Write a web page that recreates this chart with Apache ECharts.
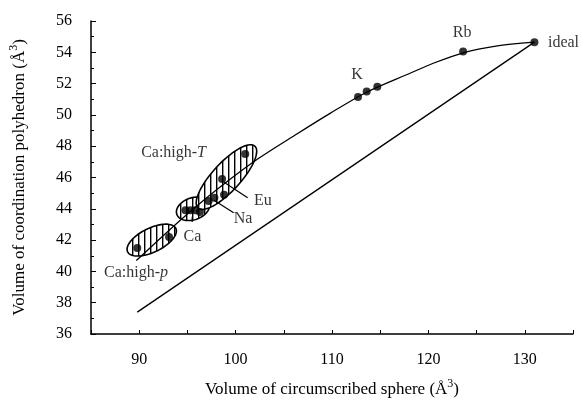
<!DOCTYPE html>
<html>
<head>
<meta charset="utf-8">
<script src="https://cdn.jsdelivr.net/npm/echarts@6/dist/echarts.min.js"></script>
<style>
    html, body { margin: 0; padding: 0; background: #fff; }
    #chart { width: 583px; height: 408px; }
</style>
</head>
<body>
<div id="chart"></div>
<script>
    // measured points (circumscribed sphere volume, polyhedron volume)
    var pointX = [89.8, 93.1, 94.8, 95.3, 95.8, 96.3, 97.2, 97.8, 98.8, 98.6, 101.0, 112.7, 113.6, 114.7, 123.6, 131.0];
    var pointY = [41.5, 42.2, 43.9, 43.9, 43.9, 43.8, 44.5, 44.7, 44.9, 45.9, 47.5, 51.15, 51.5, 51.8, 54.05, 54.65];

    // curve drawn through the points
    var curveX = [89.7, 92.0, 94.5, 98.0, 102.1, 106.4, 109.8, 113.6, 118.1, 120.5, 123.6, 127.0, 131.0];
    var curveY = [40.7, 42.0, 43.4, 45.2, 47.1, 48.8, 50.1, 51.45, 52.66, 53.3, 53.97, 54.4, 54.65];

    // straight lower line
    var lineX = [89.8, 131.0];
    var lineY = [37.4, 54.65];

    // hatched groups: ends of the long axis [x1, y1, x2, y2]
    var groupEnds = [
        [88.8, 41.25, 93.8, 42.75],   // Ca:high-p
        [93.9, 43.65, 97.25, 44.35],  // Ca
        [96.1, 44.05, 102.0, 48.0]    // Ca:high-T
    ];

    // annotations
    var labelText = ['{r|Ca:high-}{i|T}', 'Eu', 'Na', 'Ca', '{r|Ca:high-}{i|p}', 'K', 'Rb', 'ideal'];
    var labelX = [90.2, 101.9, 99.8, 94.6, 86.35, 112.6, 123.5, 132.4];
    var labelY = [47.6, 44.5, 43.35, 42.2, 39.9, 52.55, 55.25, 54.6];
    var leaderEnds = [
        [98.8, 45.7, 101.25, 44.7],   // Eu
        [97.75, 44.55, 99.8, 43.75],  // Na
        [95.5, 43.5, 95.5, 43.15]     // Ca
    ];

    var groupHalfWidth = [12, 11, 14];   // px
    var labelAlign = ['left', 'left', 'left', 'left', 'left', 'center', 'center', 'left'];

    var fontFamily = '"Liberation Serif", "DejaVu Serif", serif';

    // vertical hatch pattern
    var hatchCanvas = document.createElement('canvas');
    hatchCanvas.width = 6;
    hatchCanvas.height = 6;
    var hctx = hatchCanvas.getContext('2d');
    hctx.fillStyle = '#fff';
    hctx.fillRect(0, 0, 6, 6);
    hctx.fillStyle = '#000';
    hctx.fillRect(0, 0, 1.4, 6);
    var hatch = { type: 'pattern', image: hatchCanvas, repeat: 'repeat' };

    function pairs(xs, ys) {
        return xs.map(function (x, i) { return [x, ys[i]]; });
    }

    var myChart = echarts.init(document.getElementById('chart'), null, { renderer: 'canvas' });

    var axisText = { color: '#000', fontFamily: fontFamily, fontSize: 16 };
    var nameStyle = {
        color: '#000', fontFamily: fontFamily, fontSize: 17,
        rich: {
            s: { fontFamily: fontFamily, fontSize: 12, color: '#000', verticalAlign: 'top', lineHeight: 23 }
        }
    };

    myChart.setOption({
        animation: false,
        backgroundColor: '#fff',
        grid: { left: 90, right: 10, top: 21, bottom: 74 },
        xAxis: {
            type: 'value',
            min: 85,
            max: 135,
            interval: 5,
            name: 'Volume of circumscribed sphere (Å{s|3})',
            nameLocation: 'middle',
            nameGap: 44,
            nameTextStyle: nameStyle,
            axisLine: { onZero: false, lineStyle: { color: '#000', width: 1.5 } },
            axisTick: { inside: true, length: 4, lineStyle: { color: '#000' } },
            axisLabel: Object.assign({
                margin: 18,
                formatter: function (v) { return v % 10 === 0 ? v : ''; }
            }, axisText),
            splitLine: { show: false }
        },
        yAxis: {
            type: 'value',
            min: 36,
            max: 56,
            interval: 2,
            name: 'Volume of coordination polyhedron (Å{s|3})',
            nameLocation: 'middle',
            nameRotate: 90,
            nameGap: 60,
            nameTextStyle: nameStyle,
            axisLine: { onZero: false, lineStyle: { color: '#000', width: 1.5 } },
            axisTick: { inside: true, length: 5, lineStyle: { color: '#000' } },
            minorTick: { show: true, splitNumber: 2, length: 3, lineStyle: { color: '#000' } },
            axisLabel: Object.assign({ margin: 19 }, axisText),
            splitLine: { show: false }
        },
        series: [
            {
                // hatched ellipses
                type: 'custom',
                coordinateSystem: 'cartesian2d',
                data: groupEnds,
                encode: { x: [0, 2], y: [1, 3] },
                z: 1,
                renderItem: function (params, api) {
                    var e = groupEnds[params.dataIndex];
                    var p1 = api.coord([e[0], e[1]]);
                    var p2 = api.coord([e[2], e[3]]);
                    var cx = (p1[0] + p2[0]) / 2, cy = (p1[1] + p2[1]) / 2;
                    var dx = (p2[0] - p1[0]) / 2, dy = (p2[1] - p1[1]) / 2;
                    var a = Math.sqrt(dx * dx + dy * dy);
                    var ux = dx / a, uy = dy / a;
                    var b = groupHalfWidth[params.dataIndex];
                    var pts = [];
                    for (var k = 0; k < 90; k++) {
                        var t = k / 90 * 2 * Math.PI;
                        pts.push([
                            cx + a * Math.cos(t) * ux - b * Math.sin(t) * uy,
                            cy + a * Math.cos(t) * uy + b * Math.sin(t) * ux
                        ]);
                    }
                    return {
                        type: 'polygon',
                        shape: { points: pts },
                        style: { fill: hatch, stroke: '#000', lineWidth: 1.6 }
                    };
                }
            },
            {
                type: 'line',
                data: pairs(lineX, lineY),
                symbol: 'none',
                z: 2,
                lineStyle: { color: '#000', width: 1.3 }
            },
            {
                type: 'line',
                data: pairs(curveX, curveY),
                symbol: 'none',
                smooth: 0.3,
                z: 2,
                lineStyle: { color: '#000', width: 1.3 }
            },
            {
                // leader lines
                type: 'custom',
                coordinateSystem: 'cartesian2d',
                data: leaderEnds,
                encode: { x: [0, 2], y: [1, 3] },
                z: 3,
                renderItem: function (params, api) {
                    var e = leaderEnds[params.dataIndex];
                    var p1 = api.coord([e[0], e[1]]);
                    var p2 = api.coord([e[2], e[3]]);
                    return {
                        type: 'line',
                        shape: { x1: p1[0], y1: p1[1], x2: p2[0], y2: p2[1] },
                        style: { stroke: '#000', lineWidth: 1.2 }
                    };
                }
            },
            {
                type: 'scatter',
                data: pairs(pointX, pointY),
                symbol: 'circle',
                symbolSize: 8,
                z: 4,
                itemStyle: { color: '#000' }
            },
            {
                // text labels
                type: 'scatter',
                symbolSize: 0,
                z: 5,
                silent: true,
                data: labelText.map(function (txt, i) {
                    return {
                        value: [labelX[i], labelY[i]],
                        label: { align: labelAlign[i] }
                    };
                }),
                label: {
                    show: true,
                    position: 'inside',
                    verticalAlign: 'middle',
                    color: '#000',
                    fontFamily: fontFamily,
                    fontSize: 16,
                    formatter: function (p) { return labelText[p.dataIndex]; },
                    rich: {
                        r: { fontFamily: fontFamily, fontSize: 16, color: '#000' },
                        i: { fontFamily: fontFamily, fontSize: 16, color: '#000', fontStyle: 'italic' }
                    }
                }
            }
        ]
    });
</script>
</body>
</html>
